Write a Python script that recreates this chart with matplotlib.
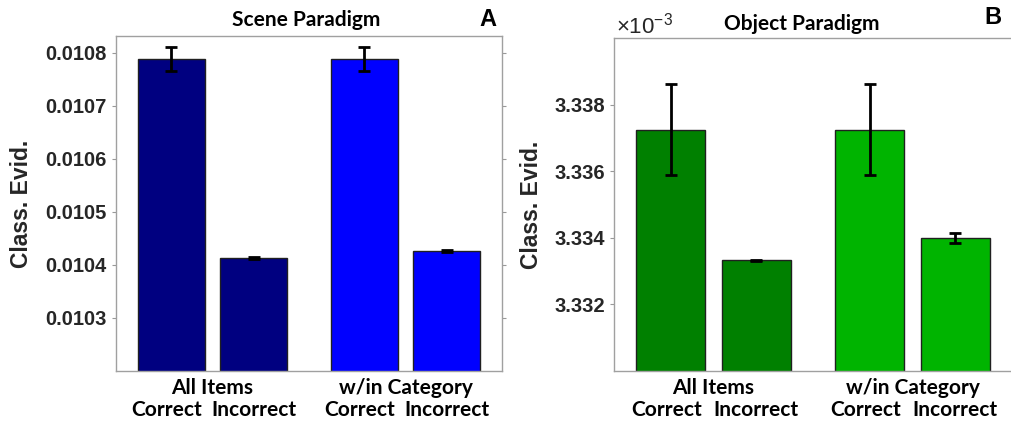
"""
Classifier evidence for correct vs. incorrect trials, scene and object paradigms.
"""

import matplotlib.pyplot as plt
import numpy as np
from matplotlib.ticker import FuncFormatter

groups = ["All Items", "w/in Category"]
conditions = ["Correct", "Incorrect"]

# Scene paradigm: rows = group, cols = condition
scene_means = [[0.010789, 0.010413], [0.010789, 0.010426]]
scene_err = [[0.0000222, 0.0000012], [0.0000222, 0.0000020]]

# Object paradigm
object_means = [[3.33725e-3, 3.33332e-3], [3.33725e-3, 3.33398e-3]]
object_err = [[1.37e-6, 0.015e-6], [1.37e-6, 0.15e-6]]

scene_colors = ["#000080", "#0000ff"]
object_colors = ["#008000", "#00b400"]

TEXT_FONT = "Lato"
GREY = "#262626"

plt.rcParams["font.family"] = ["Liberation Sans", "DejaVu Sans"]
plt.rcParams["mathtext.fontset"] = "custom"
plt.rcParams["mathtext.rm"] = "Liberation Sans"


def draw_panel(ax, means, errs, colors, ylim, yticks, fmt):
    offset, width = 0.214, 0.347
    for g, (m, e) in enumerate(zip(means, errs)):
        xs = np.array([g + 1 - offset, g + 1 + offset])
        ax.bar(xs, m, width=width, color=colors[g], edgecolor="#202020",
               linewidth=1.0, zorder=2)
        ax.errorbar(xs, m, yerr=e, fmt="none", ecolor="black",
                    elinewidth=2, capsize=4, capthick=2, zorder=3)
        # condition names under each bar, group name above them
        for x, cond, dx in zip(xs, conditions, (-3, 0)):
            ax.annotate(cond, xy=(x, 0), xycoords=("data", "axes fraction"),
                        xytext=(dx, -28), textcoords="offset points",
                        ha="center", va="center", fontsize=15,
                        family=TEXT_FONT, fontweight="bold", color="black")
        ax.annotate(groups[g], xy=(g + 1, 0), xycoords=("data", "axes fraction"),
                    xytext=(0, -12.5), textcoords="offset points",
                    ha="center", va="center", fontsize=15,
                    family=TEXT_FONT, fontweight="bold", color="black")

    ax.set_xlim(0.5, 2.5)
    ax.set_ylim(*ylim)
    ax.set_yticks(yticks)
    ax.yaxis.set_major_formatter(FuncFormatter(fmt))
    ax.set_xticks([])
    ax.tick_params(axis="y", direction="out", length=3, width=0.8,
                   colors="#999999", labelcolor=GREY, right=True,
                   labelsize=14.5)
    for lbl in ax.get_yticklabels():
        lbl.set_fontweight("bold")
    for s in ax.spines.values():
        s.set_color("#a0a0a0")
        s.set_linewidth(1.0)
    ax.set_ylabel("Class. Evid.", fontweight="bold", fontsize=16.5, color=GREY)


fig = plt.figure(figsize=(10.11, 4.21), dpi=100)
ax_a = fig.add_axes([0.1147, 0.1188, 0.3818, 0.7957])
ax_b = fig.add_axes([0.6073, 0.1188, 0.3937, 0.791])

draw_panel(ax_a, scene_means, scene_err, scene_colors,
           (0.01020, 0.010832), [0.0103, 0.0104, 0.0105, 0.0106, 0.0107, 0.0108],
           lambda v, _: f"{v:.4f}")
draw_panel(ax_b, object_means, object_err, object_colors,
           (3.330e-3, 3.340e-3), [3.332e-3, 3.334e-3, 3.336e-3, 3.338e-3],
           lambda v, _: f"{v * 1e3:.3f}")

ax_a.yaxis.set_label_coords(-0.215, 0.5)
ax_b.yaxis.set_label_coords(-0.178, 0.5)

# panel titles and letters
fig.text(306 / 1011, 1 - 20 / 421, "Scene Paradigm", ha="center", va="center",
         family=TEXT_FONT, fontweight="bold", fontsize=15)
fig.text(802 / 1011, 1 - 24 / 421, "Object Paradigm", ha="center", va="center",
         family=TEXT_FONT, fontweight="bold", fontsize=15)
fig.text(488 / 1011, 1 - 19 / 421, "A", ha="center", va="center",
         fontweight="bold", fontsize=17)
fig.text(993 / 1011, 1 - 18 / 421, "B", ha="center", va="center",
         fontweight="bold", fontsize=17)
fig.text(616 / 1011, 1 - 26 / 421, r"$\times$10$^{-3}$", ha="left", va="center",
         fontsize=16, color=GREY)

fig.savefig("out.png", dpi=100)
plt.close(fig)
